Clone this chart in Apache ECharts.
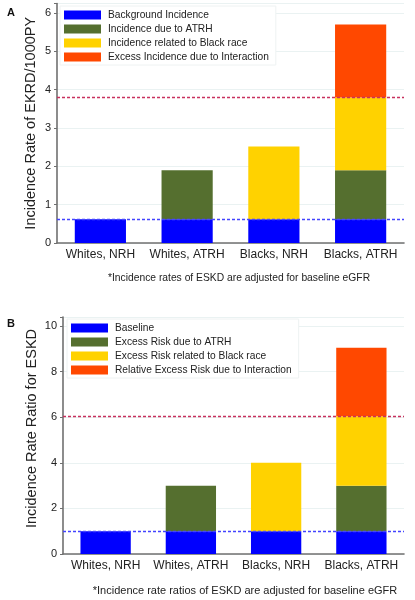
<!DOCTYPE html>
<html>
<head>
<meta charset="utf-8">
<script src="https://cdn.jsdelivr.net/npm/echarts@6/dist/echarts.min.js"></script>
<style>
html,body{margin:0;padding:0;background:#fff;}
#chart{width:415px;height:600px;}
</style>
</head>
<body>
<div id="chart"></div>
<script>
const categories = ['Whites, NRH', 'Whites, ATRH', 'Blacks, NRH', 'Blacks, ATRH'];

const namesA = ['Background Incidence', 'Incidence due to ATRH', 'Incidence related to Black race', 'Excess Incidence due to Interaction'];
const baselineA = [0.62, 0.62, 0.62, 0.62];
const atrhA = [0, 1.28, 0, 1.28];
const blackA = [0, 0, 1.9, 1.9];
const interA = [0, 0, 0, 1.9];
const refLinesA = [0.62, 3.8];
const yTicksA = [0, 1, 2, 3, 4, 5, 6];

const namesB = ['Baseline', 'Excess Risk due to ATRH', 'Excess Risk related to Black race', 'Relative Excess Risk due to Interaction'];
const baselineB = [1, 1, 1, 1];
const atrhB = [0, 2, 0, 2];
const blackB = [0, 0, 3, 3.05];
const interB = [0, 0, 0, 3];
const refLinesB = [1, 6.05];
const yTicksB = [0, 2, 4, 6, 8, 10];

const colors = ['#0000FF', '#556F2F', '#FFD200', '#FF4800'];
const refColors = ['#4444FF', '#C8305E'];
const FONT = 'Arial, "Liberation Sans", sans-serif';

function mkSeries(names, datas, idx, refs) {
  return names.map((n, i) => {
    const s = {
      name: n, type: 'bar', stack: 'st' + idx,
      xAxisIndex: idx, yAxisIndex: idx,
      barWidth: '59%',
      itemStyle: { color: colors[i] },
      data: datas[i],
      z: 2
    };
    // reference line k is attached to series k (k = 0, 1)
    if (i < refs.length) {
      s.markLine = {
        silent: true, symbol: ['none', 'none'], label: { show: false },
        z: 5,
        lineStyle: { color: refColors[i], type: [3, 2], width: 1.3, opacity: 1 },
        emphasis: { disabled: true },
        data: [{ yAxis: refs[i] }]
      };
    }
    return s;
  });
}

function yAxis(idx, max, interval, ticks, name, gap, namePad) {
  return {
    type: 'value', gridIndex: idx, min: 0, max: max, interval: interval,
    name: name, nameLocation: 'middle', nameGap: gap, nameMoveOverlap: false,
    nameTextStyle: { fontSize: 14.5, color: '#222', fontFamily: FONT, padding: namePad },
    axisLine: { show: true, lineStyle: { color: '#707070', width: 1.6 } },
    axisTick: { show: true, length: 3, lineStyle: { color: '#707070' } },
    axisLabel: {
      fontSize: 11, color: '#222', fontFamily: FONT, margin: 6,
      formatter: v => ticks.indexOf(v) >= 0 ? String(v) : ''
    },
    splitLine: { show: true, lineStyle: { color: '#EAF2F2', width: 1 } }
  };
}

function xAxis(idx) {
  return {
    type: 'category', gridIndex: idx, data: categories,
    axisLine: { show: true, lineStyle: { color: '#707070', width: 1.6 } },
    axisTick: { show: false },
    axisLabel: { fontSize: 12, color: '#222', fontFamily: FONT, margin: 6, interval: 0 }
  };
}

function legend(names, left, top) {
  return {
    data: names, orient: 'vertical', left: left, top: top,
    itemWidth: 37, itemHeight: 9, itemGap: 4,
    backgroundColor: '#fff', borderColor: '#EEF2F2', borderWidth: 1,
    padding: [4, 7, 3, 4],
    icon: 'rect',
    textStyle: { fontSize: 10.2, color: '#222', fontFamily: FONT, padding: [0, 0, 0, 2] },
    selectedMode: false
  };
}

const option = {
  animation: false,
  backgroundColor: '#fff',
  title: [
    { text: 'A', left: 2, top: 2, textStyle: { fontSize: 11, fontWeight: 'bold', color: '#111', fontFamily: FONT } },
    { text: 'B', left: 2, top: 313, textStyle: { fontSize: 11, fontWeight: 'bold', color: '#111', fontFamily: FONT } },
    { text: '*Incidence rates of ESKD are adjusted for baseline eGFR', left: 234, top: 268, textAlign: 'center',
      textStyle: { fontSize: 10.3, fontWeight: 'normal', color: '#222', fontFamily: FONT } },
    { text: '*Incidence rate ratios of ESKD are adjusted for baseline eGFR', left: 240, top: 580, textAlign: 'center',
      textStyle: { fontSize: 11, fontWeight: 'normal', color: '#222', fontFamily: FONT } }
  ],
  grid: [
    { left: 57, right: 11, top: 3.5, bottom: 357 },
    { left: 63, right: 11, top: 317, bottom: 46 }
  ],
  legend: [legend(namesA, 60, 6), legend(namesB, 67, 319)],
  xAxis: [xAxis(0), xAxis(1)],
  yAxis: [
    yAxis(0, 6.25, 1, yTicksA, 'Incidence Rate of EKRD/1000PY', 19, 0),
    yAxis(1, 10.4, 2, yTicksB, 'Incidence Rate Ratio for ESKD', 24, [0, 0, 0, 14])
  ],
  series: [].concat(
    mkSeries(namesA, [baselineA, atrhA, blackA, interA], 0, refLinesA),
    mkSeries(namesB, [baselineB, atrhB, blackB, interB], 1, refLinesB)
  )
};

const chart = echarts.init(document.getElementById('chart'), null, { renderer: 'canvas' });
chart.setOption(option);
</script>
</body>
</html>
